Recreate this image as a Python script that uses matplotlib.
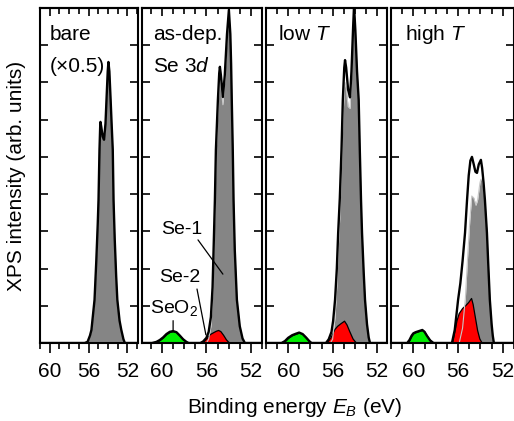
import matplotlib
matplotlib.use("Agg")
import matplotlib.pyplot as plt
from matplotlib.ticker import MultipleLocator

plt.rcParams['font.family'] = ['Liberation Sans', 'DejaVu Sans']
plt.rcParams['mathtext.fontset'] = 'custom'
plt.rcParams['mathtext.it'] = 'Liberation Sans:italic'
plt.rcParams['mathtext.rm'] = 'Liberation Sans'

# ---- bare (x0.5) ----
bare_E = [61.0, 56.4, 56.1, 55.85, 55.7, 55.38, 55.2, 55.05, 54.97, 54.87, 54.8, 54.77, 54.68,
          54.55, 54.4, 54.25, 54.12, 54.02, 53.95, 53.85, 53.72, 53.62, 53.5, 53.42, 53.3,
          53.15, 53.03, 52.8, 52.62, 52.4, 52.25, 50.9]
bare_env = [0, 0, 0.03, 0.2, 0.35, 1.16, 2.2, 3.2, 3.84, 5.19, 5.8, 5.94, 5.8,
            5.55, 5.46, 5.9, 6.7, 7.3, 7.55, 7.3, 6.53, 5.9, 5.19, 3.84, 2.8,
            1.8, 1.16, 0.6, 0.35, 0.1, 0, 0]

# ---- as-dep. ----
asdep_E = [61.8, 60.9, 60.5, 60.2, 59.9, 59.6, 59.3, 59.0, 58.7, 58.4, 58.1, 57.8, 57.6,
           56.55, 56.3, 56.0, 55.8, 55.6, 55.45, 55.35, 55.24, 55.15, 54.97, 54.85, 54.79,
           54.7, 54.52, 54.35, 54.15, 53.98, 53.85, 53.78, 53.72, 53.63, 53.56, 53.45,
           53.26, 53.0, 52.75, 52.54, 51.0]
asdep_env = [0, 0, 0.03, 0.08, 0.15, 0.24, 0.3, 0.32, 0.29, 0.2, 0.1, 0.03, 0,
             0, 0.04, 0.14, 0.3, 0.7, 1.5, 2.6, 3.84, 5.19, 6.53, 7.25, 7.42,
             7.2, 6.61, 7.2, 8.3, 8.95, 8.3, 7.5, 6.53, 5.19, 3.84, 2.5,
             1.16, 0.45, 0.12, 0, 0]
asdep_se1_E = [56.0, 55.8, 55.6, 55.45, 55.35, 55.24, 55.15, 54.97, 54.85, 54.79, 54.7,
               54.52, 54.35, 54.15, 53.98, 53.85, 53.78, 53.72, 53.63, 53.56, 53.45,
               53.26, 53.0, 52.75, 52.54]
asdep_se1 = [0, 0.1, 0.45, 1.25, 2.35, 3.55, 4.9, 6.25, 6.95, 7.12, 6.95,
             6.4, 7.05, 8.2, 8.9, 8.3, 7.5, 6.53, 5.19, 3.84, 2.5,
             1.16, 0.45, 0.12, 0]
asdep_se2_E = [56.55, 56.3, 56.0, 55.7, 55.4, 55.15, 54.95, 54.75, 54.5, 54.25, 54.0, 53.85]
asdep_se2 = [0, 0.04, 0.13, 0.24, 0.29, 0.33, 0.35, 0.32, 0.22, 0.1, 0.02, 0]
asdep_ox_E = [60.85, 60.5, 60.2, 59.9, 59.6, 59.3, 59.0, 58.7, 58.4, 58.1, 57.8, 57.6]
asdep_ox = [0, 0.03, 0.08, 0.15, 0.24, 0.3, 0.32, 0.29, 0.2, 0.1, 0.03, 0]

# ---- low T ----
low_E = [62.0, 60.6, 60.3, 60.0, 59.64, 59.3, 59.01, 58.7, 58.4, 58.1, 57.9,
         56.6, 56.35, 56.1, 55.95, 55.78, 55.62, 55.5, 55.35, 55.2, 55.08, 54.95, 54.88,
         54.78, 54.6, 54.43, 54.3, 54.15, 54.07, 53.95, 53.8, 53.65, 53.55, 53.44, 53.35,
         53.2, 53.08, 52.9, 52.75, 52.63, 50.9]
low_env = [0, 0, 0.05, 0.14, 0.21, 0.25, 0.28, 0.24, 0.15, 0.05, 0,
           0, 0.1, 0.3, 0.6, 1.16, 2.0, 2.96, 3.9, 5.19, 6.53, 7.4, 7.6,
           7.4, 6.8, 6.6, 7.3, 8.5, 9.05, 8.4, 7.3, 6.53, 5.19, 3.84, 2.96,
           1.9, 1.16, 0.5, 0.15, 0, 0]
low_se1_E = [56.2, 56.0, 55.78, 55.62, 55.5, 55.35, 55.2, 55.08, 54.95, 54.88, 54.78,
             54.6, 54.43, 54.3, 54.15, 54.07, 53.95, 53.8, 53.65, 53.55, 53.44, 53.35,
             53.2, 53.08, 52.9, 52.75, 52.63]
low_se1 = [0, 0.1, 0.7, 1.55, 2.5, 3.4, 4.7, 5.95, 6.8, 7.0, 6.85,
           6.35, 6.3, 7.1, 8.4, 9.0, 8.4, 7.3, 6.53, 5.19, 3.84, 2.96,
           1.9, 1.16, 0.5, 0.15, 0]
low_se2_E = [56.58, 56.2, 55.85, 55.6, 55.3, 54.97, 54.75, 54.5, 54.2, 53.95, 53.8]
low_se2 = [0, 0.15, 0.37, 0.46, 0.53, 0.6, 0.5, 0.32, 0.12, 0.03, 0]
low_ox_E = [60.6, 60.3, 60.0, 59.64, 59.3, 59.01, 58.7, 58.4, 58.1, 57.9]
low_ox = [0, 0.05, 0.14, 0.21, 0.25, 0.28, 0.24, 0.15, 0.05, 0]

# ---- high T ----
high_E = [62.0, 60.55, 60.35, 60.15, 60.0, 59.8, 59.5, 59.2, 59.0, 58.8, 58.5, 58.2,
          56.55, 56.3, 56.15, 56.0, 55.8, 55.6, 55.38, 55.2, 55.05, 54.9, 54.76, 54.6,
          54.45, 54.31, 54.15, 53.96, 53.85, 53.72, 53.6, 53.42, 53.3, 53.16, 53.0,
          52.9, 52.8, 51.0]
high_env = [0, 0, 0.08, 0.2, 0.26, 0.29, 0.32, 0.35, 0.3, 0.2, 0.07, 0,
            0, 0.35, 0.75, 1.16, 1.6, 2.2, 2.96, 3.84, 4.5, 4.9, 5.0, 4.8,
            4.6, 4.57, 4.8, 4.92, 4.7, 4.3, 3.84, 2.96, 2.1, 1.16, 0.5,
            0.2, 0, 0]
high_se1_E = [55.9, 55.6, 55.35, 55.15, 54.95, 54.78, 54.6, 54.4, 54.25, 54.05, 53.96,
              53.85, 53.72, 53.6, 53.42, 53.3, 53.16, 53.0, 52.9, 52.8]
high_se1 = [0, 0.4, 1.2, 2.3, 3.3, 3.95, 3.9, 3.7, 3.85, 4.3, 4.4,
            4.4, 4.2, 3.84, 2.96, 2.1, 1.16, 0.5, 0.2, 0]
high_se2_E = [56.55, 56.35, 56.15, 55.95, 55.64, 55.35, 55.1, 54.84, 54.7, 54.5, 54.3, 54.1, 53.87]
high_se2 = [0, 0.3, 0.6, 0.8, 0.94, 1.02, 1.1, 1.21, 1.05, 0.7, 0.35, 0.12, 0]
high_ox_E = [60.55, 60.35, 60.15, 60.0, 59.8, 59.5, 59.2, 59.0, 58.8, 58.5, 58.2]
high_ox = [0, 0.08, 0.2, 0.26, 0.29, 0.32, 0.35, 0.3, 0.2, 0.07, 0]

W, H = 514, 421
fig = plt.figure(figsize=(W / 100, H / 100), dpi=100)

GRAY = '#858585'
RED = '#ff0000'
GREEN = '#00ee00'


def make_axes(x0, x1, xlim):
    ax = fig.add_axes([x0 / W, 1 - 343 / H, (x1 - x0) / W, 335 / H])
    ax.set_xlim(*xlim)
    ax.set_ylim(0, 9)
    ax.xaxis.set_major_locator(MultipleLocator(4))
    ax.xaxis.set_minor_locator(MultipleLocator(1))
    ax.yaxis.set_major_locator(MultipleLocator(1))
    ax.tick_params(axis='x', which='major', direction='out', length=7, width=1.2,
                   labelsize=15, pad=7)
    ax.tick_params(axis='x', which='minor', direction='out', length=4, width=1.2)
    ax.tick_params(axis='y', which='major', direction='in', length=6, width=1.2,
                   left=True, right=True, labelleft=False)
    top = ax.secondary_xaxis('top')
    top.xaxis.set_major_locator(MultipleLocator(4))
    top.xaxis.set_minor_locator(MultipleLocator(1))
    top.tick_params(which='major', direction='in', length=6, width=1.2, labeltop=False)
    top.tick_params(which='minor', direction='in', length=4, width=1.2)
    for s in ax.spines.values():
        s.set_linewidth(1.5)
    top.spines['top'].set_linewidth(1.5)
    return ax


def draw(ax, env_E, env, se1_E, se1, se2_E=None, se2=None, ox_E=None, ox=None):
    ax.fill_between(se1_E, se1, color=GRAY, lw=0)
    ax.plot(se1_E, se1, color='#c8c8c8', lw=0.8)
    if se2 is not None:
        ax.fill_between(se2_E, se2, facecolor=RED, edgecolor='k', lw=0.9)
    if ox is not None:
        ax.fill_between(ox_E, ox, facecolor=GREEN, edgecolor='k', lw=0.9)
    ax.plot(env_E, env, color='k', lw=1.7, solid_joinstyle='round')


ax1 = make_axes(40, 138, (61.0, 50.9))
draw(ax1, bare_E, bare_env, bare_E, bare_env)
ax1.text(0.1, 0.905, 'bare', transform=ax1.transAxes, fontsize=15)
ax1.text(0.1, 0.81, '(\u00d70.5)', transform=ax1.transAxes, fontsize=15)

ax2 = make_axes(142, 262, (61.8, 51.0))
draw(ax2, asdep_E, asdep_env, asdep_se1_E, asdep_se1, asdep_se2_E, asdep_se2, asdep_ox_E, asdep_ox)
ax2.text(0.09, 0.905, 'as-dep.', transform=ax2.transAxes, fontsize=15)
ax2.text(0.09, 0.81, 'Se 3$d$', transform=ax2.transAxes, fontsize=15)
ax2.text(58.2, 3.06, 'Se-1', fontsize=14, ha='center', va='center')
ax2.annotate('', xy=(54.52, 1.85), xytext=(56.76, 2.77),
             arrowprops=dict(arrowstyle='-', color='k', lw=0.9, shrinkA=0, shrinkB=0))
ax2.text(58.38, 1.77, 'Se-2', fontsize=14, ha='center', va='center')
ax2.annotate('', xy=(56.05, 0.22), xytext=(56.85, 1.45),
             arrowprops=dict(arrowstyle='-', color='k', lw=0.9, shrinkA=0, shrinkB=0))
ax2.text(58.9, 0.94, 'SeO$_2$', fontsize=14, ha='center', va='center')
ax2.annotate('', xy=(59.0, 0.3), xytext=(59.0, 0.6),
             arrowprops=dict(arrowstyle='-', color='k', lw=0.9, shrinkA=0, shrinkB=0))

ax3 = make_axes(266, 387, (62.0, 51.1))
draw(ax3, low_E, low_env, low_se1_E, low_se1, low_se2_E, low_se2, low_ox_E, low_ox)
ax3.text(0.1, 0.905, 'low $T$', transform=ax3.transAxes, fontsize=15)

ax4 = make_axes(391, 514, (62.0, 51.0))
draw(ax4, high_E, high_env, high_se1_E, high_se1, high_se2_E, high_se2, high_ox_E, high_ox)
ax4.text(0.11, 0.905, 'high $T$', transform=ax4.transAxes, fontsize=15)

fig.text(295 / W, 1 - 413 / H, 'Binding energy $E_B$ (eV)', fontsize=15,
         ha='center', va='baseline')
fig.text(17 / W, 1 - 176 / H, 'XPS intensity (arb. units)', fontsize=15,
         rotation=90, ha='center', va='center')

fig.savefig('out.png', dpi=100)
